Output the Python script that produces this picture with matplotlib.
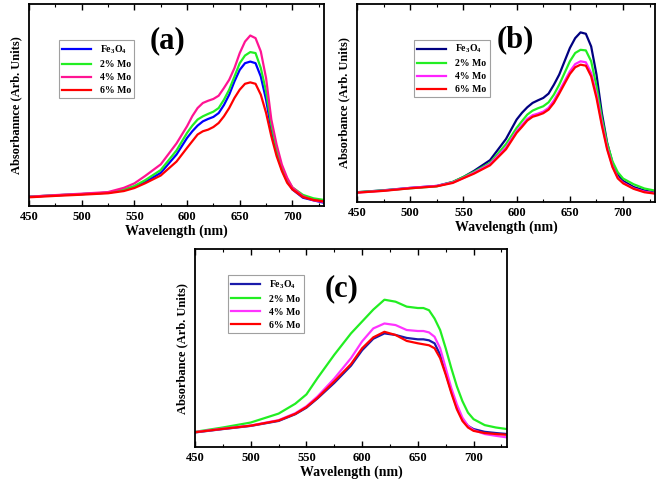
import matplotlib
matplotlib.use("Agg")
import matplotlib.pyplot as plt
from matplotlib.ticker import MultipleLocator

plt.rcParams['font.family'] = ['Liberation Serif', 'DejaVu Serif']
plt.rcParams['font.weight'] = 'bold'
plt.rcParams['mathtext.fontset'] = 'custom'
plt.rcParams['mathtext.rm'] = 'Liberation Serif:bold'
plt.rcParams['mathtext.it'] = 'Liberation Serif:bold'
plt.rcParams['mathtext.bf'] = 'Liberation Serif:bold'

labels = [r'Fe$_3$O$_4$', '2% Mo', '4% Mo', '6% Mo']

# wavelength grid (nm) (a) and (b)
wl_ab = [450, 475, 500, 525, 540, 550, 560, 575, 590, 600, 605, 610, 615, 620, 625, 630, 635,
         640, 645, 650, 655, 660, 665, 670, 675, 680, 685, 690, 695, 700, 710, 720, 730]

# panel (a) - absorbance, arbitrary units (fraction of axis height)
a_fe3o4 = [0.046, 0.053, 0.059, 0.066, 0.079, 0.094, 0.118, 0.164, 0.255, 0.337, 0.370, 0.398, 0.419,
           0.431, 0.441, 0.460, 0.500, 0.551, 0.617, 0.674, 0.707, 0.715, 0.707, 0.641, 0.526, 0.378,
           0.263, 0.181, 0.123, 0.082, 0.041, 0.028, 0.016]
a_mo2 = [0.046, 0.053, 0.059, 0.066, 0.082, 0.099, 0.127, 0.178, 0.275, 0.362, 0.398, 0.428, 0.444,
         0.456, 0.467, 0.485, 0.526, 0.576, 0.641, 0.707, 0.745, 0.762, 0.757, 0.683, 0.567, 0.403,
         0.280, 0.189, 0.132, 0.092, 0.055, 0.038, 0.030]
a_mo4 = [0.046, 0.054, 0.061, 0.069, 0.090, 0.112, 0.148, 0.206, 0.310, 0.395, 0.445, 0.485, 0.510,
         0.521, 0.530, 0.546, 0.584, 0.625, 0.683, 0.757, 0.814, 0.844, 0.831, 0.765, 0.633, 0.428,
         0.304, 0.205, 0.140, 0.092, 0.048, 0.028, 0.020]
a_mo6 = [0.043, 0.050, 0.056, 0.063, 0.074, 0.089, 0.112, 0.151, 0.220, 0.288, 0.321, 0.354, 0.370,
         0.378, 0.391, 0.411, 0.444, 0.485, 0.535, 0.576, 0.605, 0.612, 0.605, 0.551, 0.461, 0.345,
         0.247, 0.173, 0.115, 0.082, 0.044, 0.030, 0.023]

# panel (b)
b_fe3o4 = [0.049, 0.059, 0.071, 0.081, 0.101, 0.126, 0.157, 0.211, 0.318, 0.416, 0.450, 0.478, 0.500,
           0.513, 0.525, 0.547, 0.592, 0.643, 0.710, 0.777, 0.827, 0.856, 0.849, 0.785, 0.643, 0.450,
           0.299, 0.198, 0.139, 0.106, 0.075, 0.058, 0.047]
b_mo2 = [0.049, 0.058, 0.069, 0.079, 0.101, 0.126, 0.152, 0.197, 0.292, 0.374, 0.408, 0.441, 0.461,
         0.473, 0.483, 0.503, 0.542, 0.592, 0.651, 0.710, 0.752, 0.768, 0.765, 0.710, 0.584, 0.424,
         0.295, 0.205, 0.150, 0.118, 0.089, 0.068, 0.057]
b_mo4 = [0.047, 0.057, 0.071, 0.081, 0.098, 0.121, 0.147, 0.191, 0.275, 0.357, 0.388, 0.419, 0.438,
         0.446, 0.456, 0.475, 0.512, 0.559, 0.609, 0.659, 0.696, 0.710, 0.705, 0.651, 0.542, 0.399,
         0.273, 0.181, 0.122, 0.097, 0.068, 0.052, 0.044]
b_mo6 = [0.047, 0.056, 0.069, 0.079, 0.096, 0.120, 0.143, 0.185, 0.266, 0.349, 0.379, 0.411, 0.430,
         0.438, 0.448, 0.466, 0.500, 0.547, 0.597, 0.646, 0.680, 0.693, 0.688, 0.634, 0.525, 0.386,
         0.265, 0.176, 0.119, 0.094, 0.066, 0.049, 0.042]

# panel (c)
wl_c = [450, 475, 500, 525, 540, 550, 560, 575, 590, 600, 610, 620, 630, 640,
        650, 655, 660, 665, 670, 675, 680, 685, 690, 695, 700, 710, 720, 730]
c_fe3o4 = [0.075, 0.092, 0.108, 0.133, 0.167, 0.200, 0.247, 0.325, 0.412, 0.490, 0.548, 0.575, 0.567, 0.552,
           0.545, 0.545, 0.540, 0.525, 0.467, 0.375, 0.283, 0.200, 0.142, 0.108, 0.092, 0.078, 0.072, 0.067]
c_mo2 = [0.078, 0.100, 0.125, 0.170, 0.220, 0.267, 0.350, 0.467, 0.575, 0.635, 0.695, 0.745, 0.735, 0.710,
         0.703, 0.703, 0.692, 0.650, 0.592, 0.500, 0.400, 0.308, 0.233, 0.175, 0.142, 0.112, 0.100, 0.092]
c_mo4 = [0.077, 0.094, 0.110, 0.137, 0.172, 0.207, 0.257, 0.347, 0.450, 0.535, 0.600, 0.625, 0.617, 0.592,
         0.587, 0.587, 0.580, 0.558, 0.500, 0.400, 0.300, 0.217, 0.150, 0.108, 0.087, 0.067, 0.058, 0.050]
c_mo6 = [0.076, 0.093, 0.109, 0.135, 0.169, 0.203, 0.250, 0.333, 0.420, 0.500, 0.555, 0.583, 0.567, 0.537,
         0.525, 0.520, 0.515, 0.500, 0.450, 0.367, 0.275, 0.192, 0.133, 0.100, 0.083, 0.072, 0.067, 0.063]


def draw_panel(ax, wl, series, colors, tag, ylabel, leg_anchor, tag_pos):
    for y, c, lab in zip(series, colors, labels):
        ax.plot(wl, y, color=c, lw=1.6, label=lab, solid_joinstyle='round')
    ax.set_xlim(450, 730)
    ax.set_ylim(0, 1)
    ax.set_yticks([])
    ax.xaxis.set_major_locator(MultipleLocator(50))
    ax.xaxis.set_minor_locator(MultipleLocator(25))
    ax.tick_params(axis='x', which='both', direction='in', top=True, labelsize=9, pad=3.5)
    ax.tick_params(axis='x', which='major', length=4, width=1)
    ax.tick_params(axis='x', which='minor', length=2, width=0.8)
    for s in ax.spines.values():
        s.set_linewidth(1.3)
    ax.set_xlabel('Wavelength (nm)', fontsize=10, fontweight='bold', labelpad=1)
    ax.set_ylabel(ylabel, fontsize=9, fontweight='bold', labelpad=5)
    ax.text(tag_pos[0], tag_pos[1], tag, transform=ax.transAxes, fontsize=22,
            fontweight='bold', ha='center', va='center')
    leg = ax.legend(loc='upper left', bbox_to_anchor=leg_anchor, borderaxespad=0,
                    fontsize=7, frameon=True, fancybox=False, handlelength=3.0,
                    handletextpad=0.9, labelspacing=0.4, borderpad=0.35)
    leg.get_frame().set_edgecolor('#888888')
    leg.get_frame().set_linewidth(0.8)


fig = plt.figure(figsize=(6.61, 4.82), dpi=100)
ax_a = fig.add_axes([0.0439, 0.5726, 0.4463, 0.4191])
ax_b = fig.add_axes([0.540, 0.581, 0.451, 0.411])
ax_c = fig.add_axes([0.295, 0.072, 0.472, 0.411])

draw_panel(ax_a, wl_ab, [a_fe3o4, a_mo2, a_mo4, a_mo6],
           ['#0000ff', '#22ee22', '#ff1493', '#ff0000'],
           '(a)', 'Absorbannce (Arb. Units)', (0.10, 0.82), (0.47, 0.82))
draw_panel(ax_b, wl_ab, [b_fe3o4, b_mo2, b_mo4, b_mo6],
           ['#000080', '#22ee22', '#ff22ff', '#ff0000'],
           '(b)', 'Absorbance (Arb. Units)', (0.19, 0.82), (0.53, 0.82))
draw_panel(ax_c, wl_c, [c_fe3o4, c_mo2, c_mo4, c_mo6],
           ['#1a1aaa', '#22ee22', '#ff33ff', '#ff0000'],
           '(c)', 'Absorbance (Arb. Units)', (0.105, 0.87), (0.47, 0.80))

fig.savefig('out.png', dpi=100)
